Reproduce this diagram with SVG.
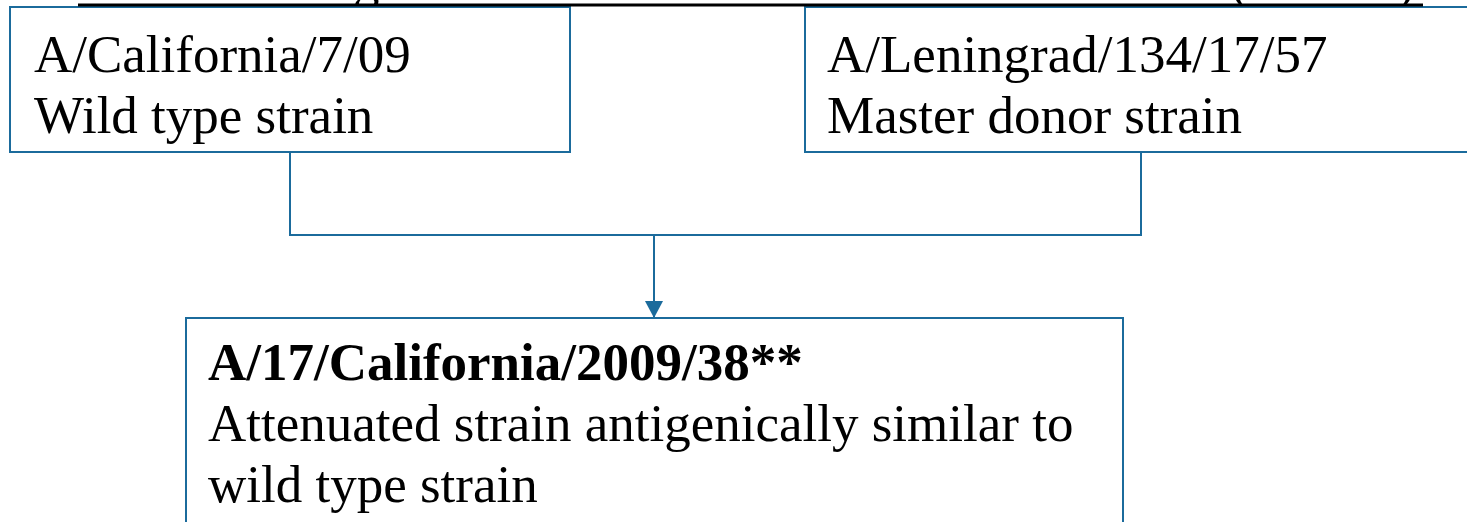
<svg xmlns="http://www.w3.org/2000/svg" width="1467" height="522" viewBox="0 0 1467 522">
<style>
.box{fill:#ffffff;stroke:#1b6b9c;stroke-width:2}
.t{font-family:"Liberation Serif","Times New Roman",serif;font-size:53px;fill:#000}
.b{font-weight:bold}
.c{fill:none;stroke:#1b6b9c;stroke-width:2}
</style>
<defs>
<marker id="arrow" markerWidth="20" markerHeight="18" refX="17" refY="9" orient="auto" markerUnits="userSpaceOnUse"><path d="M0,0 L17,9 L0,18 Z" fill="#1b6b9c"/></marker>
</defs>
<g id="title-fragment">
<text class="t" x="353" y="-1">g</text>
<text class="t" x="1231" y="-1">(</text>
<text class="t" x="1397" y="-1">)</text>
</g>
<g id="node-california">
<rect class="box" x="10" y="7" width="560" height="145"/>
<text class="t" x="34" y="72">A/California/7/09</text>
<text class="t" x="34" y="133">Wild type strain</text>
</g>
<g id="node-leningrad">
<rect class="box" x="805" y="7" width="680" height="145"/>
<text class="t" x="827" y="72">A/Leningrad/134/17/57</text>
<text class="t" x="827" y="133">Master donor strain</text>
</g>
<line x1="78" y1="5" x2="1423" y2="5" stroke="#000" stroke-width="3"/>
<g id="connectors">
<polyline class="c" points="290,152 290,235 1141,235 1141,152"/>
<line class="c" x1="654" y1="235" x2="654" y2="318" marker-end="url(#arrow)"/>
</g>
<g id="node-attenuated">
<rect class="box" x="186" y="318" width="937" height="220"/>
<text class="t b" x="208" y="380">A/17/California/2009/38**</text>
<text class="t" x="208" y="441">Attenuated strain antigenically similar to</text>
<text class="t" x="208" y="502">wild type strain</text>
</g>
</svg>
